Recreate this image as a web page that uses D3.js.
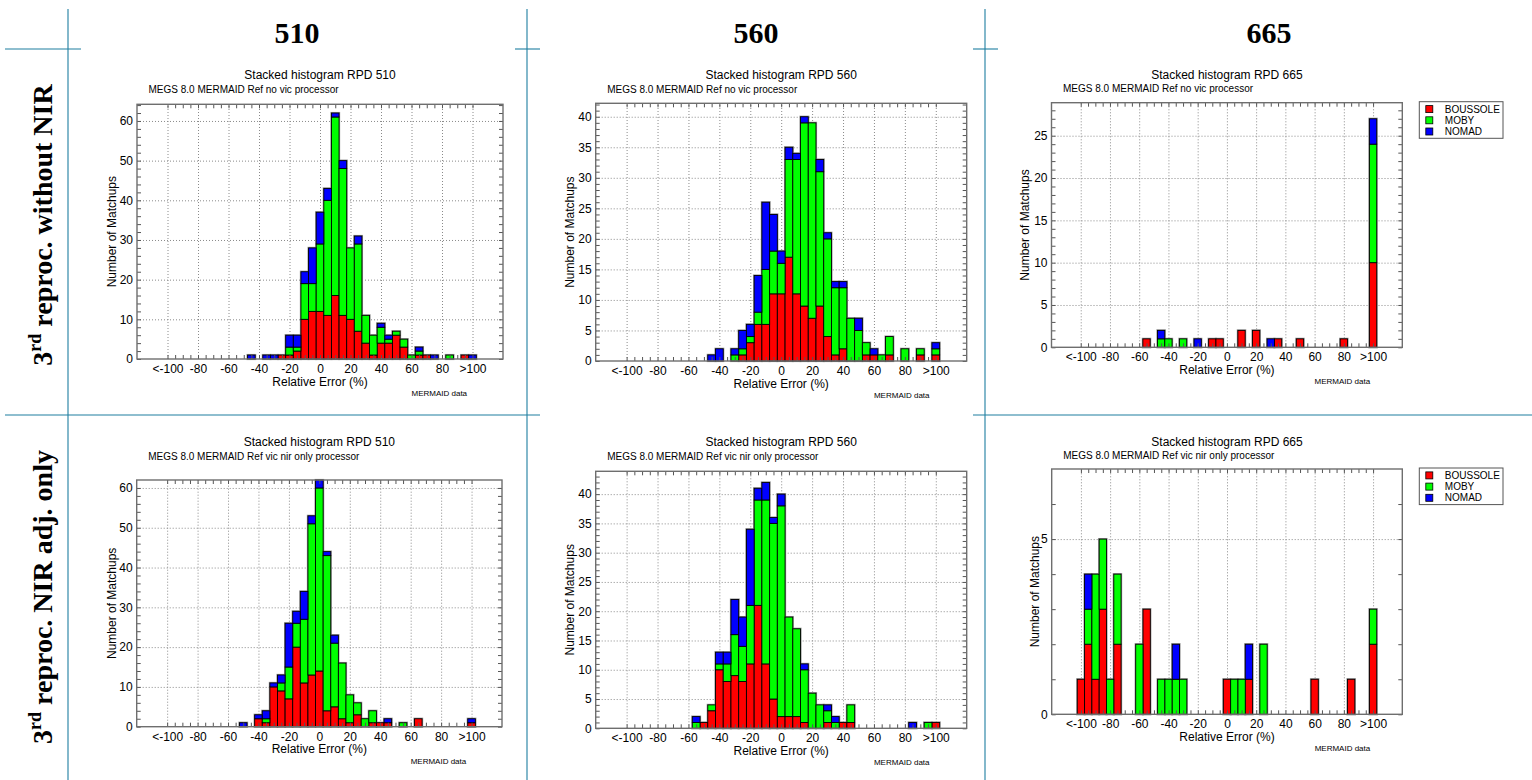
<!DOCTYPE html>
<html>
<head>
<meta charset="utf-8">
<script src="https://cdn.jsdelivr.net/npm/d3@7"></script>
<style>
  body { margin: 0; background: #fff; }
  svg { display: block; font-family: "Liberation Sans", Arial, Helvetica, sans-serif; }
</style>
</head>
<body>
<svg id="fig" width="1532" height="780"></svg>
<script>
// ---- categories and labels ----
const binCenters = d3.range(-100, 101, 5);           // relative error bins (%), width 5
const xTickValues = [-100, -80, -60, -40, -20, 0, 20, 40, 60, 80, 100];
const xTickLabels = ["<-100", "-80", "-60", "-40", "-20", "0", "20", "40", "60", "80", ">100"];
const stations = ["BOUSSOLE", "MOBY", "NOMAD"];
const stationColors = ["#ff0000", "#00ff00", "#0000ff"];
const bandHeaders = ["510", "560", "665"];
const rowLabelMain = [" reproc. without NIR", " reproc. NIR adj. only"];
const titles = ["Stacked histogram RPD 510", "Stacked histogram RPD 560", "Stacked histogram RPD 665"];
const subtitles = ["MEGS 8.0 MERMAID Ref no vic processor", "MEGS 8.0 MERMAID Ref vic nir only processor"];

// ---- counts per bin (-100 ... 100 step 5) ----
// row 1: no vicarious processor
const boussole510NoVic = [0,0,0,0,0,0,0,0,0,0,  0,0,0,0,0,1,1,2,10,12,  12,11,16,11,10,7,4,1,4,4,  6,3,0,1,1,0,0,0,0,1,0];
const moby510NoVic     = [0,0,0,0,0,0,0,0,0,0,  0,0,0,0,0,0,2,1,9,7,    17,29,45,37,18,22,7,5,4,1, 1,2,1,1,0,0,0,1,0,0,0];
const nomad510NoVic    = [0,0,0,0,0,0,0,0,0,0,  0,1,0,1,1,0,3,3,3,9,    8,3,1,2,0,2,0,0,1,1,       0,0,0,1,0,1,0,0,0,0,1];

const boussole560NoVic = [0,0,0,0,0,0,0,0,0,0,  0,0,0,0,0,1,3,6,6,11,   11,17,11,9,7,9,4,1,2,0,    0,1,1,0,1,0,0,0,1,0,1];
const moby560NoVic     = [0,0,0,0,0,0,0,0,0,0,  0,0,0,0,1,1,1,2,9,7,    5,16,22,30,32,22,16,11,10,7, 5,2,0,1,3,0,2,0,1,0,1];
const nomad560NoVic    = [0,0,0,0,0,0,0,0,0,0,  0,1,2,0,1,3,2,6,11,6,   2,2,1,1,0,2,1,1,1,0,       2,0,1,0,0,0,0,0,0,0,1];

const boussole665NoVic = [0,0,0,0,0,0,0,0,0,1,  0,0,0,0,0,0,0,0,1,1,    0,0,2,0,2,0,0,1,0,0,       1,0,0,0,0,0,1,0,0,0,10];
const moby665NoVic     = [0,0,0,0,0,0,0,0,0,0,  0,1,1,0,1,0,0,0,0,0,    0,0,0,0,0,0,0,0,0,0,       0,0,0,0,0,0,0,0,0,0,14];
const nomad665NoVic    = [0,0,0,0,0,0,0,0,0,0,  0,1,0,0,0,0,1,0,0,0,    0,0,0,0,0,0,1,0,0,0,       0,0,0,0,0,0,0,0,0,0,3];

// row 2: vicarious adjustment of the NIR only
const boussole510VicNir = [0,0,0,0,0,0,0,0,0,0, 0,0,2,1,10,9,7,20,11,13, 14,4,5,2,1,3,0,1,1,1,      0,0,0,2,0,0,0,0,0,0,1];
const moby510VicNir     = [0,0,0,0,0,0,0,0,0,0, 0,0,0,1,0,2,8,6,16,38,   46,39,16,14,7,3,2,3,0,0,   0,1,0,0,0,0,0,0,0,0,0];
const nomad510VicNir    = [0,0,0,0,0,0,0,0,0,0, 1,0,1,2,1,2,11,3,7,2,    2,1,2,0,0,0,0,0,0,1,       0,0,0,0,0,0,0,0,0,0,1];

const boussole560VicNir = [0,0,0,0,0,0,0,0,0,0, 1,3,10,8,9,8,11,21,11,5, 2,2,2,1,0,0,1,0,1,1,       0,0,0,0,0,0,0,0,0,0,1];
const moby560VicNir     = [0,0,0,0,0,0,0,0,0,1, 0,1,1,3,7,6,10,18,28,30, 36,17,15,9,6,4,2,1,0,3,    0,0,0,0,0,0,0,0,0,1,0];
const nomad560VicNir    = [0,0,0,0,0,0,0,0,0,1, 0,0,2,2,6,5,13,2,3,1,    2,0,0,1,0,0,1,1,0,0,       0,0,0,0,0,0,0,1,0,0,0];

const boussole665VicNir = [1,2,1,3,0,2,0,0,0,3, 0,0,0,0,0,0,0,0,0,0,     1,0,0,1,0,0,0,0,0,0,       0,0,1,0,0,0,0,1,0,0,2];
const moby665VicNir     = [0,1,3,2,1,2,0,0,2,0, 0,1,1,1,1,0,0,0,0,0,     0,1,1,0,0,2,0,0,0,0,       0,0,0,0,0,0,0,0,0,0,1];
const nomad665VicNir    = [0,1,0,0,0,0,0,0,0,0, 0,0,0,1,0,0,0,0,0,0,     0,0,0,1,0,0,0,0,0,0,       0,0,0,0,0,0,0,0,0,0,0];

// ---- panel layout ----
const panels = [
  { series: [boussole510NoVic, moby510NoVic, nomad510NoVic], title: titles[0], sub: subtitles[0],
    left: 137, right: 503, top: 104.3, bottom: 359, yMax: 64.2, yMajor: 10, yMinor: 2,
    titleY: 79.3, subY: 92.6, yLabelX: 111.7, legend: false },
  { series: [boussole560NoVic, moby560NoVic, nomad560NoVic], title: titles[1], sub: subtitles[0],
    left: 595.7, right: 966.7, top: 103.3, bottom: 361, yMax: 42.2, yMajor: 5, yMinor: 1,
    titleY: 79.3, subY: 92.6, yLabelX: 570, legend: false },
  { series: [boussole665NoVic, moby665NoVic, nomad665NoVic], title: titles[2], sub: subtitles[0],
    left: 1051.5, right: 1402.3, top: 102.7, bottom: 347.3, yMax: 28.9, yMajor: 5, yMinor: 1,
    titleY: 78.5, subY: 91.8, yLabelX: 1025, legend: true },
  { series: [boussole510VicNir, moby510VicNir, nomad510VicNir], title: titles[0], sub: subtitles[1],
    left: 136.7, right: 502, top: 480, bottom: 726.7, yMax: 62, yMajor: 10, yMinor: 2,
    titleY: 446.3, subY: 460.2, yLabelX: 111.7, legend: false },
  { series: [boussole560VicNir, moby560VicNir, nomad560VicNir], title: titles[1], sub: subtitles[1],
    left: 595.7, right: 966.7, top: 471.3, bottom: 728.3, yMax: 43.9, yMajor: 5, yMinor: 1,
    titleY: 446.3, subY: 460.2, yLabelX: 570, legend: false },
  { series: [boussole665VicNir, moby665VicNir, nomad665VicNir], title: titles[2], sub: subtitles[1],
    left: 1051.7, right: 1402.3, top: 469, bottom: 714.3, yMax: 7, yMajor: 5, yMinor: 1,
    titleY: 445.5, subY: 459.2, yLabelX: 1035, legend: true }
];

const svg = d3.select("#fig");

// ---- table lines ----
const ruleColor = "#1e7ea0";
const rules = svg.append("g").attr("stroke", ruleColor).attr("stroke-width", 1.1);
[[68, 9, 68, 780], [527, 9, 527, 780], [985, 9, 985, 780],
 [5, 49, 81, 49], [515, 49, 540, 49], [973, 49, 998, 49],
 [5, 415, 540, 415], [973, 415, 1532, 415]].forEach(d => {
  rules.append("line").attr("x1", d[0]).attr("y1", d[1]).attr("x2", d[2]).attr("y2", d[3]);
});

// ---- column headers and row labels ----
const headerX = [297, 756, 1269];
bandHeaders.forEach((h, i) => {
  svg.append("text").attr("x", headerX[i]).attr("y", 43)
    .attr("text-anchor", "middle")
    .attr("font-family", "'Liberation Serif', 'Times New Roman', serif")
    .attr("font-weight", "bold").attr("font-size", 30).attr("fill", "#000").text(h);
});
const rowCenters = [225, 597];
rowLabelMain.forEach((lab, i) => {
  const t = svg.append("text")
    .attr("transform", `translate(52,${rowCenters[i]}) rotate(-90)`)
    .attr("text-anchor", "middle")
    .attr("font-family", "'Liberation Serif', 'Times New Roman', serif")
    .attr("font-weight", "bold").attr("font-size", 28).attr("fill", "#000");
  t.append("tspan").text("3");
  t.append("tspan").attr("font-size", 18).attr("dy", -11).text("rd");
  t.append("tspan").attr("dy", 11).text(lab);
});

// ---- one stacked histogram ----
function drawPanel(p) {
  const g = svg.append("g");
  const x = d3.scaleLinear().domain([-120, 120]).range([p.left, p.right]);
  const y = d3.scaleLinear().domain([0, p.yMax]).range([p.bottom, p.top]);
  const binW = x(5) - x(0);
  const plotH = p.bottom - p.top, plotW = p.right - p.left;
  const intFmt = d3.format("d");

  // dotted grid
  const gx = g.append("g").attr("transform", `translate(0,${p.bottom})`)
    .call(d3.axisBottom(x).tickValues(xTickValues).tickSize(-plotH).tickFormat(""));
  gx.select(".domain").remove();
  gx.selectAll("line").attr("stroke", "#8a8a8a").attr("stroke-dasharray", "1,2");
  const yMajors = d3.range(p.yMajor, p.yMax, p.yMajor);
  const gy = g.append("g").attr("transform", `translate(${p.left},0)`)
    .call(d3.axisLeft(y).tickValues(yMajors).tickSize(-plotW).tickFormat(""));
  gy.select(".domain").remove();
  gy.selectAll("line").attr("stroke", "#8a8a8a").attr("stroke-dasharray", "1,2");

  // stacked bars
  const stackData = binCenters.map((c, i) => {
    const o = { c };
    stations.forEach((s, k) => { o[s] = p.series[k][i]; });
    return o;
  });
  const stacked = d3.stack().keys(stations)(stackData);
  const total = d => stations.reduce((a, s) => a + d[s], 0);

  g.append("g").selectAll("rect").data(stackData.filter(d => total(d) > 0))
    .join("rect")
    .attr("x", d => x(d.c) - binW / 2)
    .attr("y", d => y(total(d)))
    .attr("width", binW)
    .attr("height", d => y(0) - y(total(d)))
    .attr("fill", "none").attr("stroke", "#9a9a9a").attr("stroke-width", 2.2);

  stacked.forEach((layer, k) => {
    g.append("g").selectAll("rect").data(layer.filter(d => d[1] > d[0]))
      .join("rect")
      .attr("x", d => x(d.data.c) - binW / 2)
      .attr("y", d => y(d[1]))
      .attr("width", binW)
      .attr("height", d => y(d[0]) - y(d[1]))
      .attr("fill", stationColors[k])
      .attr("stroke", "#000").attr("stroke-width", 0.9);
  });

  // inward minor ticks on all four sides
  const xMinor = d3.range(-100, 101, 5);
  const yMinor = d3.range(0, p.yMax, p.yMinor);
  const tickStyle = sel => {
    sel.select(".domain").remove();
    sel.selectAll("line").attr("stroke", "#555").attr("stroke-width", 1);
  };
  g.append("g").attr("transform", `translate(0,${p.bottom})`)
    .call(d3.axisBottom(x).tickValues(xMinor).tickSize(-4).tickFormat("")).call(tickStyle);
  g.append("g").attr("transform", `translate(0,${p.top})`)
    .call(d3.axisTop(x).tickValues(xMinor).tickSize(-4).tickFormat("")).call(tickStyle);
  g.append("g").attr("transform", `translate(${p.left},0)`)
    .call(d3.axisLeft(y).tickValues(yMinor).tickSize(-4).tickFormat("")).call(tickStyle);
  g.append("g").attr("transform", `translate(${p.right},0)`)
    .call(d3.axisRight(y).tickValues(yMinor).tickSize(-4).tickFormat("")).call(tickStyle);

  // frame
  g.append("rect").attr("x", p.left).attr("y", p.top).attr("width", plotW).attr("height", plotH)
    .attr("fill", "none").attr("stroke", "#6e6e6e").attr("stroke-width", 1.4);

  // tick labels
  const xl = g.append("g").attr("transform", `translate(0,${p.bottom})`)
    .call(d3.axisBottom(x).tickValues(xTickValues).tickSize(0).tickPadding(5.3)
      .tickFormat((d, i) => xTickLabels[i]));
  xl.select(".domain").remove();
  xl.attr("font-size", 12).attr("font-family", null);
  xl.selectAll("text").attr("fill", "#000");
  const yl = g.append("g").attr("transform", `translate(${p.left},0)`)
    .call(d3.axisLeft(y).tickValues(d3.range(0, p.yMax, p.yMajor)).tickSize(0).tickPadding(4)
      .tickFormat(intFmt));
  yl.select(".domain").remove();
  yl.attr("font-size", 12).attr("font-family", null);
  yl.selectAll("text").attr("fill", "#000");

  // titles and axis names
  const cx = (p.left + p.right) / 2;
  g.append("text").attr("x", cx).attr("y", p.titleY).attr("text-anchor", "middle")
    .attr("font-size", 12).attr("fill", "#000").text(p.title);
  g.append("text").attr("x", p.left + 11.5).attr("y", p.subY)
    .attr("font-size", 10).attr("fill", "#000").text(p.sub);
  g.append("text").attr("x", cx).attr("y", p.bottom + 26.5).attr("text-anchor", "middle")
    .attr("font-size", 12).attr("fill", "#000").text("Relative Error (%)");
  g.append("text").attr("transform", `translate(${p.yLabelX},${(p.top + p.bottom) / 2}) rotate(-90)`)
    .attr("text-anchor", "middle").attr("dy", "0.35em")
    .attr("font-size", 12).attr("fill", "#000").text("Number of Matchups");
  g.append("text").attr("x", p.left + 0.75 * plotW).attr("y", p.bottom + 37)
    .attr("font-size", 8).attr("fill", "#000").text("MERMAID data");

  // legend
  if (p.legend) {
    const lx = 1419.3, ly = p.top - 1;
    const lg = g.append("g");
    lg.append("rect").attr("x", lx).attr("y", ly).attr("width", 83.7).attr("height", 36.6)
      .attr("fill", "#fff").attr("stroke", "#555").attr("stroke-width", 1);
    stations.forEach((s, k) => {
      const cy = ly + 7.3 + k * 11.2;
      lg.append("rect").attr("x", lx + 6.5).attr("y", cy - 3.4).attr("width", 7).attr("height", 7)
        .attr("fill", stationColors[k]).attr("stroke", "#000").attr("stroke-width", 0.8);
      lg.append("text").attr("x", lx + 25.5).attr("y", cy + 3.6)
        .attr("font-size", 10).attr("fill", "#000").text(s);
    });
  }
}

panels.forEach(drawPanel);
</script>
</body>
</html>
